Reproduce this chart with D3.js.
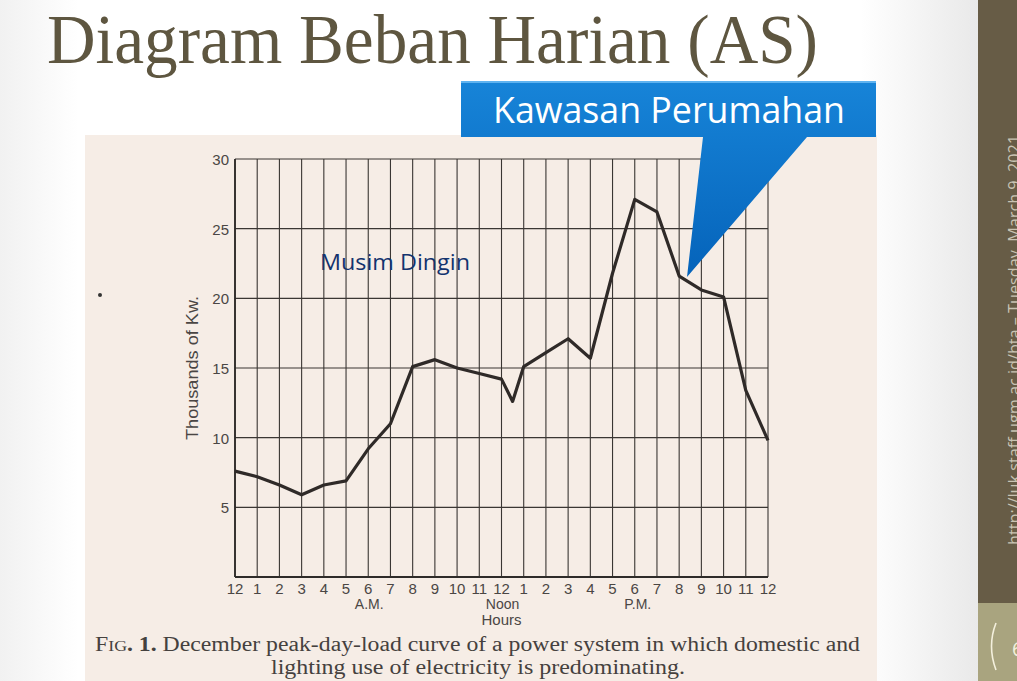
<!DOCTYPE html>
<html>
<head>
<meta charset="utf-8">
<script src="https://cdn.jsdelivr.net/npm/d3@7"></script>
<style>
  html, body { margin: 0; padding: 0; background: #fff; }
  #slide { display: block; }
</style>
</head>
<body>
<svg id="slide" width="1017" height="681"></svg>
<script>
// data (thousands of kW, hour of day)
let hours = [0, 1, 2, 3, 4, 5, 6, 7, 8, 9, 10, 11, 12, 12.5, 13, 14, 15, 16, 17, 18, 19, 20, 21, 22, 23, 24]
let load = [7.6, 7.2, 6.6, 5.9, 6.6, 6.9, 9.2, 11.0, 15.1, 15.6, 15.0, 14.6, 14.2, 12.6, 15.1, 16.1, 17.1, 15.7, 21.8, 27.1, 26.2, 21.6, 20.6, 20.1, 13.4, 9.8]
let hourTicks = d3.range(0, 25)
let hourLabels = ["12", "1", "2", "3", "4", "5", "6", "7", "8", "9", "10", "11", "12", "1", "2", "3", "4", "5", "6", "7", "8", "9", "10", "11", "12"]
let loadTicks = [0, 5, 10, 15, 20, 25, 30]
let loadLabels = ["", "5", "10", "15", "20", "25", "30"]

let svg = d3.select("#slide")
let defs = svg.append("defs")

// slide background
let bg = defs.append("linearGradient").attr("id", "bg").attr("x1", 0).attr("x2", 1).attr("y1", 0).attr("y2", 0)
bg.append("stop").attr("offset", "0%").attr("stop-color", "#f1f1f1")
bg.append("stop").attr("offset", "8%").attr("stop-color", "#ffffff")
bg.append("stop").attr("offset", "88%").attr("stop-color", "#ffffff")
bg.append("stop").attr("offset", "100%").attr("stop-color", "#e9e9e9")
svg.append("rect").attr("width", 978).attr("height", 681).attr("fill", "url(#bg)")

// right sidebar
svg.append("rect").attr("x", 978).attr("y", 0).attr("width", 39).attr("height", 603).attr("fill", "#675c46")
svg.append("rect").attr("x", 978).attr("y", 603).attr("width", 39).attr("height", 78).attr("fill", "#a9a47f")
svg.append("text")
  .attr("transform", "translate(1020,545) rotate(-90)")
  .attr("font-family", "Open Sans")
  .attr("font-size", 16)
  .attr("fill", "#c9c3b3")
  .attr("textLength", 410)
  .attr("lengthAdjust", "spacingAndGlyphs")
  .text("http://luk.staff.ugm.ac.id/bta – Tuesday, March 9, 2021")
svg.append("path")
  .attr("d", "M996,623 Q987,646 996,670")
  .attr("fill", "none").attr("stroke", "#f4f0dd").attr("stroke-width", 1.6)
svg.append("text").attr("x", 1012).attr("y", 656)
  .attr("font-family", "Open Sans").attr("font-size", 20).attr("fill", "#f4f0dd").text("6")

// title
svg.append("text")
  .attr("x", 47).attr("y", 63)
  .attr("font-family", "Liberation Serif")
  .attr("font-size", 69)
  .attr("fill", "#5e5640")
  .attr("textLength", 771)
  .attr("lengthAdjust", "spacingAndGlyphs")
  .text("Diagram Beban Harian (AS)")

// scanned page
svg.append("rect").attr("x", 85).attr("y", 135).attr("width", 792).attr("height", 546).attr("fill", "#f6ede6")
svg.append("circle").attr("cx", 100).attr("cy", 295).attr("r", 2).attr("fill", "#333")

let xScale = d3.scaleLinear().domain([0, 24]).range([235, 768])
let yScale = d3.scaleLinear().domain([0, 30]).range([577, 159])

let grid = svg.append("g")
grid.selectAll("line.v")
  .data(hourTicks)
  .enter().append("line")
  .attr("class", "v")
  .attr("x1", d => xScale(d)).attr("x2", d => xScale(d))
  .attr("y1", yScale(30)).attr("y2", yScale(0))
  .attr("stroke", "#3a3633").attr("stroke-width", 1.1)
grid.selectAll("line.h")
  .data(loadTicks)
  .enter().append("line")
  .attr("class", "h")
  .attr("x1", xScale(0)).attr("x2", xScale(24))
  .attr("y1", d => yScale(d)).attr("y2", d => yScale(d))
  .attr("stroke", "#3a3633").attr("stroke-width", 1.1)
// heavier frame on left and bottom
grid.append("line").attr("x1", xScale(0)).attr("x2", xScale(0)).attr("y1", yScale(30)).attr("y2", yScale(0))
  .attr("stroke", "#2e2b29").attr("stroke-width", 1.8)
grid.append("line").attr("x1", xScale(0)).attr("x2", xScale(24)).attr("y1", yScale(0)).attr("y2", yScale(0))
  .attr("stroke", "#2e2b29").attr("stroke-width", 1.8)

let tickFont = "Liberation Sans"
svg.append("g").selectAll("text")
  .data(hourTicks)
  .enter().append("text")
  .attr("x", d => xScale(d))
  .attr("y", 594)
  .attr("text-anchor", "middle")
  .attr("font-family", tickFont).attr("font-size", 15)
  .attr("fill", "#4a4644")
  .text((d, i) => hourLabels[i])

svg.append("g").selectAll("text")
  .data(loadTicks)
  .enter().append("text")
  .attr("x", 229)
  .attr("y", d => yScale(d) + 6)
  .attr("text-anchor", "end")
  .attr("font-family", tickFont).attr("font-size", 15)
  .attr("fill", "#4a4644")
  .text((d, i) => loadLabels[i])

let subLabels = [["A.M.", 6], ["Noon", 12], ["P.M.", 18]]
svg.append("g").selectAll("text")
  .data(subLabels)
  .enter().append("text")
  .attr("x", d => xScale(d[1]) + (d[0] == "P.M." ? 3 : 1))
  .attr("y", 609)
  .attr("text-anchor", "middle")
  .attr("font-family", tickFont).attr("font-size", 14)
  .attr("fill", "#4a4644")
  .text(d => d[0])
svg.append("text").attr("x", xScale(12)).attr("y", 625).attr("text-anchor", "middle")
  .attr("font-family", tickFont).attr("font-size", 15).attr("fill", "#4a4644").text("Hours")

svg.append("text")
  .attr("transform", "translate(198,368) rotate(-90)")
  .attr("text-anchor", "middle")
  .attr("font-family", tickFont).attr("font-size", 16)
  .attr("fill", "#4a4644")
  .attr("textLength", 144)
  .attr("lengthAdjust", "spacingAndGlyphs")
  .text("Thousands of Kw.")

// load curve
let line = d3.line()
  .x((d, i) => xScale(hours[i]))
  .y(d => yScale(d))
svg.append("path")
  .attr("d", line(load))
  .attr("fill", "none")
  .attr("stroke", "#2f2a28")
  .attr("stroke-width", 3.2)
  .attr("stroke-linejoin", "round")

// caption
let cap = svg.append("text").attr("x", 95).attr("y", 651)
  .attr("font-family", "Liberation Serif").attr("font-size", 20).attr("fill", "#45413e")
  .attr("textLength", 765).attr("lengthAdjust", "spacingAndGlyphs")
cap.append("tspan").text("F")
cap.append("tspan").attr("font-size", 15).text("IG")
cap.append("tspan").attr("font-weight", "bold").text(". 1.")
cap.append("tspan").text("  December peak-day-load curve of a power system in which domestic and")
svg.append("text").attr("x", 478).attr("y", 674).attr("text-anchor", "middle")
  .attr("font-family", "Liberation Serif").attr("font-size", 20).attr("fill", "#45413e")
  .attr("textLength", 414).attr("lengthAdjust", "spacingAndGlyphs")
  .text("lighting use of electricity is predominating.")

// annotation
svg.append("text").attr("x", 320).attr("y", 270)
  .attr("font-family", "Open Sans").attr("font-size", 22).attr("fill", "#13336e")
  .attr("textLength", 150).attr("lengthAdjust", "spacingAndGlyphs")
  .text("Musim Dingin")

let cg = defs.append("linearGradient").attr("id", "callout").attr("x1", 0).attr("x2", 0).attr("y1", 0).attr("y2", 1)
cg.append("stop").attr("offset", "0%").attr("stop-color", "#1784d8")
cg.append("stop").attr("offset", "100%").attr("stop-color", "#0563ba")
let callout = svg.append("g")
callout.append("path")
  .attr("d", "M461,81 L876,81 L876,137 L807,137 L687,277 L703,137 L461,137 Z")
  .attr("fill", "url(#callout)")
callout.append("line").attr("x1", 461).attr("x2", 876).attr("y1", 82).attr("y2", 82)
  .attr("stroke", "#5fb3f0").attr("stroke-width", 2)
callout.append("text")
  .attr("x", 493).attr("y", 123)
  .attr("font-family", "Open Sans").attr("font-size", 37)
  .attr("fill", "#ffffff")
  .attr("textLength", 352).attr("lengthAdjust", "spacingAndGlyphs")
  .text("Kawasan Perumahan")
</script>
</body>
</html>
